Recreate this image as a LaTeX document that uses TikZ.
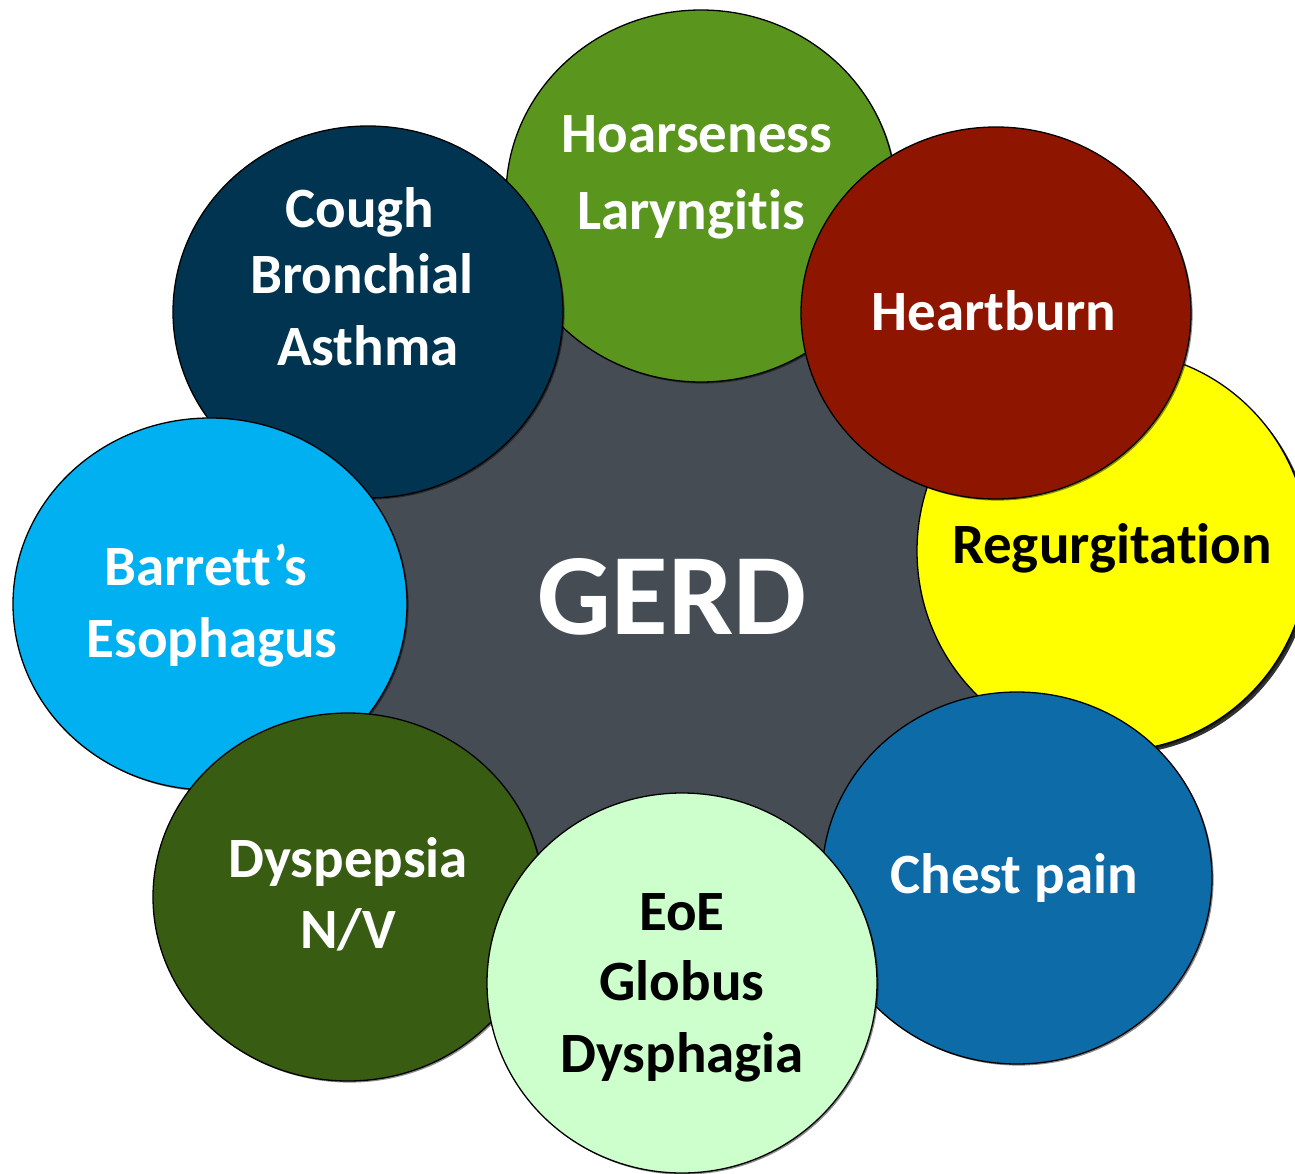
\documentclass[tikz,border=0pt]{standalone}
\usepackage{fontspec}
\setmainfont{Carlito}[Ligatures={NoCommon}]
\usetikzlibrary{shapes.geometric,shadows}
\definecolor{cHoarse}{HTML}{5A961E}
\definecolor{cHeart}{HTML}{8E1600}
\definecolor{cRegurg}{HTML}{FFFF00}
\definecolor{cChest}{HTML}{0D6BA8}
\definecolor{cEoE}{HTML}{CCFFCC}
\definecolor{cDysp}{HTML}{375C12}
\definecolor{cBarrett}{HTML}{00B0F0}
\definecolor{cCough}{HTML}{003450}
\definecolor{cGray}{HTML}{464C54}
\tikzset{
  bubble/.style={ellipse, draw=black, line width=1.3pt, inner sep=0pt,
    minimum width=390pt, minimum height=372pt,
    drop shadow={shadow xshift=1.6pt, shadow yshift=-1.6pt, opacity=0.45, fill=black}},
  lbl/.style={anchor=base, inner sep=0pt, font=\fontsize{57}{70}\selectfont\bfseries, text=white},
  lblk/.style={lbl, text=black},
}
\begin{document}
\begin{tikzpicture}[x=1pt,y=-1pt]
\useasboundingbox (0,0) rectangle (1295,1174);
\fill[white] (0,0) rectangle (1295,1174);
% central grey disc
\node[circle, fill=cGray, minimum size=720pt, inner sep=0pt] (core) at (690,600) {};
% bubbles, bottom to top
\node[bubble, fill=cHoarse] (hoarse) at (701,196) {};
\node[bubble, fill=cRegurg, minimum width=392pt, minimum height=400pt,
  drop shadow={shadow xshift=3.5pt, shadow yshift=-3.5pt, opacity=0.8, fill=black}] (regurg) at (1113,551) {};
\node[bubble, fill=cHeart] (heart) at (996,313) {};
\node[bubble, fill=cChest] (chest) at (1017,878) {};
\node[bubble, fill=cCough] (cough) at (368,312) {};
\node[bubble, fill=cBarrett, minimum width=394pt] (barrett) at (210,604) {};
\node[bubble, fill=cDysp, minimum height=368pt] (dysp) at (348,897) {};
\node[bubble, fill=cEoE, minimum height=380pt] (eoe) at (682,983) {};
% labels
\node[lbl] (t-hoarse1) at (697,153) {Hoarseness};
\node[lbl] (t-hoarse2) at (691,230) {Laryngitis};
\node[lbl] (t-heart) at (994,330) {Heartburn};
\node[lblk] (t-regurg) at (1112,563) {Regurgitation};
\node[lbl] (t-chest) at (1014,893) {Chest pain};
\node[lblk] (t-eoe1) at (682,930) {EoE};
\node[lblk] (t-eoe2) at (682,1000) {Globus};
\node[lblk] (t-eoe3) at (682,1072) {Dysphagia};
\node[lbl] (t-dysp1) at (348,877) {Dyspepsia};
\node[lbl] (t-dysp2) at (348,948) {N/V};
\node[lbl] (t-barrett1) at (206,585) {Barrett’s};
\node[lbl] (t-barrett2) at (212,657) {Esophagus};
\node[lbl] (t-cough1) at (360,228) {Cough};
\node[lbl] (t-cough2) at (362,293) {Bronchial};
\node[lbl] (t-cough3) at (368,365) {Asthma};
\node[lbl, font=\fontsize{116}{130}\selectfont\bfseries] (t-gerd) at (672,634) {GERD};
\end{tikzpicture}
\end{document}
